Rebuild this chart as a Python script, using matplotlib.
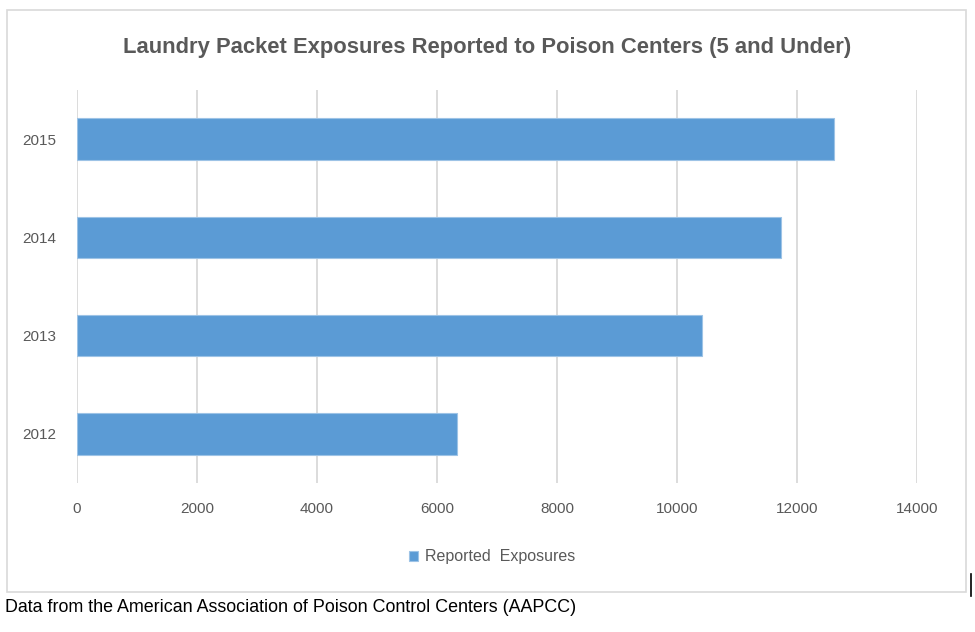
import matplotlib.pyplot as plt
from matplotlib.patches import Rectangle

years = ["2012", "2013", "2014", "2015"]
exposures = [6340, 10420, 11740, 12620]
x_ticks = [0, 2000, 4000, 6000, 8000, 10000, 12000, 14000]

plt.rcParams['font.family'] = ['Liberation Sans', 'DejaVu Sans']

bar_color = '#5B9BD5'
text_gray = '#595959'
grid_gray = '#D9D9D9'

fig = plt.figure(figsize=(9.75, 6.32), dpi=100)

# chart frame
fig.patches.append(Rectangle((7 / 975, 1 - 592 / 632), 959 / 975, 582 / 632,
                             transform=fig.transFigure, fill=False,
                             edgecolor=grid_gray, linewidth=1.2))

ax = fig.add_axes([77 / 975, 1 - 483 / 632, 840 / 975, 393 / 632])
ax.barh(range(len(years)), exposures, height=0.42, color=bar_color,
        edgecolor='#9DC3E6', linewidth=0.8, label='Reported  Exposures', zorder=3)

ax.set_xlim(0, 14000)
ax.set_ylim(-0.5, len(years) - 0.5)
ax.set_xticks(x_ticks)
ax.set_xticklabels([str(t) for t in x_ticks], fontsize=11, color=text_gray)
ax.set_yticks(range(len(years)))
ax.set_yticklabels(years, fontsize=11, color=text_gray)
ax.tick_params(length=0)
ax.tick_params(axis='x', pad=14)
ax.tick_params(axis='y', pad=15)
ax.grid(axis='x', color=grid_gray, linewidth=1.3, zorder=0)
for s in ax.spines.values():
    s.set_visible(False)

fig.text(0.5, 1 - 47 / 632, 'Laundry Packet Exposures Reported to Poison Centers (5 and Under)',
         ha='center', va='center', fontsize=15.8, fontweight='bold', color=text_gray)

fig.legend(loc='center', bbox_to_anchor=(492 / 975, 1 - 557 / 632), frameon=False,
           fontsize=11.5, labelcolor=text_gray, handlelength=0.6, handleheight=0.6,
           handletextpad=0.4)

fig.text(5 / 975, 1 - 607 / 632, 'Data from the American Association of Poison Control Centers (AAPCC)',
         ha='left', va='center', fontsize=12.9, color='black')

# cursor mark at right edge
fig.add_artist(plt.Line2D([971 / 975, 971 / 975], [1 - 596 / 632, 1 - 574 / 632],
                          transform=fig.transFigure, color='black', linewidth=1.2))

fig.savefig('out.png', dpi=100)
